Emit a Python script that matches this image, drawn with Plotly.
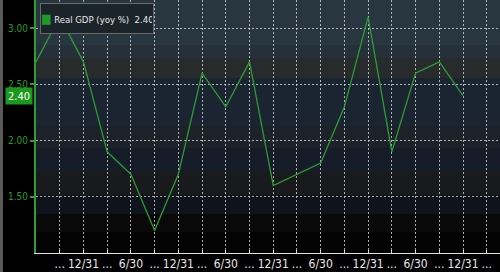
import plotly.graph_objects as go

# ---- data ----
quarter_index = list(range(19))
gdp_yoy = [2.7, 3.1, 2.7, 1.9, 1.7, 1.2, 1.7, 2.6, 2.3, 2.7,
           1.6, 1.7, 1.8, 2.3, 3.1, 1.9, 2.6, 2.7, 2.4]
x_tick_vals = list(range(1, 20))
x_tick_text = ["...", "12/31", "...", "6/30", "...", "12/31", "...", "6/30", "...", "12/31",
               "...", "6/30", "...", "12/31", "...", "6/30", "...", "12/31", "..."]
y_tick_vals = [1.5, 2.0, 2.5, 3.0]
y_tick_text = ["1.50", "2.00", "2.50", "3.00"]
series_name = "Real GDP (yoy %)"
last_value = gdp_yoy[-1]

W, H = 500, 272
L, R, T, B = 36, 0, 0, 19
PW, PH = W - L - R, H - T - B

GREEN = "#2f9a38"
FONT = "Liberation Sans Narrow, DejaVu Sans Condensed, sans-serif"

fig = go.Figure()
fig.add_trace(go.Scatter(x=quarter_index, y=gdp_yoy, mode="lines",
                         line=dict(color=GREEN, width=1.3), showlegend=False,
                         hoverinfo="skip"))

# background gradient bands (pixel rows from top of plot area)
bands = [(0, 45, "#27363f"), (45, 58, "#263038"), (58, 78, "#282b2b"),
         (78, 126, "#1b2531"), (126, 148, "#1d2129"), (148, 172, "#161d28"),
         (172, 195, "#191a1b"), (195, 214, "#0f131b"),
         (214, 232, "#090909"), (232, PH, "#030303")]
shapes = []
for y0, y1, c in bands:
    shapes.append(dict(type="rect", xref="paper", yref="paper", x0=0, x1=1,
                       y0=1 - y1 / PH, y1=1 - y0 / PH, fillcolor=c,
                       line=dict(width=0), layer="below"))
# left gray strip
shapes.append(dict(type="rect", xref="paper", yref="paper",
                   x0=-L / PW, x1=(3 - L) / PW, y0=-B / PH, y1=1,
                   fillcolor="#5a5a5a", line=dict(width=0), layer="below"))

annotations = [
    dict(xref="paper", yref="paper", x=4 / PW, y=1 - 3 / PH, xanchor="left", yanchor="top",
         text=f"<span style='color:#1f9a28;font-size:13px'>■</span> {series_name}  {last_value:.2f}",
         showarrow=False, font=dict(family=FONT, size=9.5, color="#e6e6e6"),
         width=110, height=27, align="center", valign="middle",
         bgcolor="#1c242b", bordercolor="#6a6a6a", borderwidth=1, borderpad=1),
    dict(xref="paper", yref="y", x=(33 - L) / PW, y=last_value, xanchor="right", yanchor="middle",
         text=f"{last_value:.2f}", showarrow=False,
         font=dict(family=FONT, size=11, color="#ffffff"),
         width=26, height=16, align="center", valign="middle",
         bgcolor="#1a9a1a", borderpad=0),
]

fig.update_layout(
    width=W, height=H,
    margin=dict(l=L, r=R, t=T, b=B, pad=0),
    paper_bgcolor="#000000", plot_bgcolor="#000000",
    shapes=shapes, annotations=annotations,
    xaxis=dict(range=[0, (W - L) / ((463 - 36) / 18)], tickmode="array",
               tickvals=x_tick_vals, ticktext=x_tick_text,
               showgrid=True, gridcolor="rgba(225,225,225,0.75)", gridwidth=1, griddash="2px,2px",
               showline=True, linecolor="#e0e0e0", linewidth=1,
               ticks="inside", ticklen=3, tickcolor="#e0e0e0",
               tickfont=dict(family=FONT, size=12, color="#e8e8e8"),
               zeroline=False, fixedrange=True),
    yaxis=dict(range=[1.0, 3.25], tickmode="array", tickvals=y_tick_vals, ticktext=y_tick_text,
               showgrid=True, gridcolor="rgba(225,225,225,0.75)", gridwidth=1, griddash="2px,2px",
               showline=True, linecolor=GREEN, linewidth=2,
               ticks="outside", ticklen=4, tickwidth=2, tickcolor=GREEN,
               tickfont=dict(family=FONT, size=10, color="#2a9a30"),
               zeroline=False, fixedrange=True),
)

fig.write_html("out.html", config={"displayModeBar": False})
